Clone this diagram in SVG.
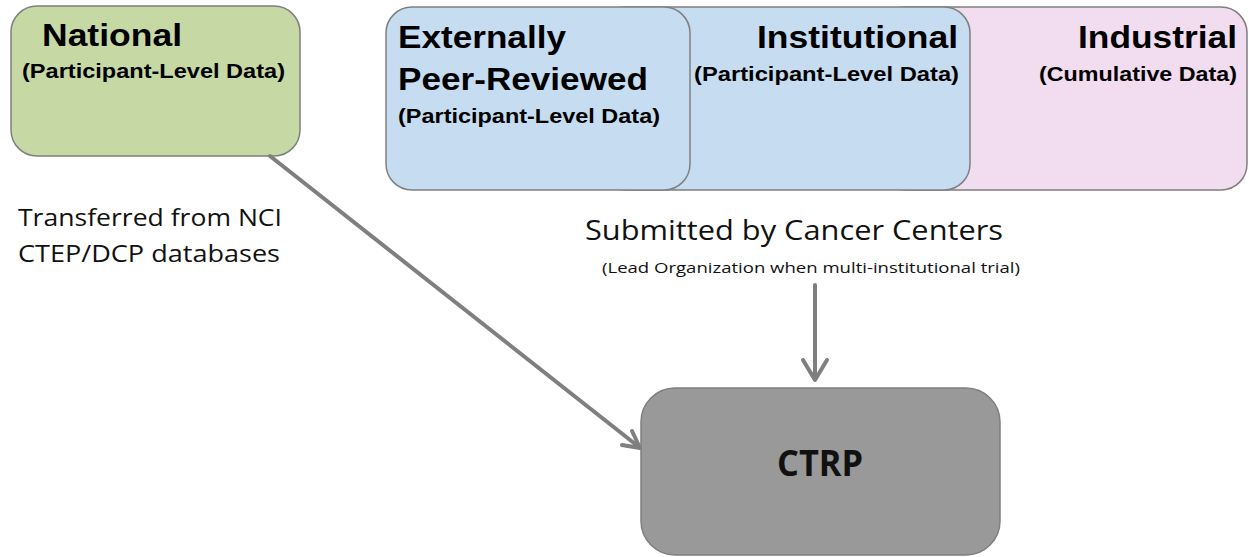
<svg xmlns="http://www.w3.org/2000/svg" width="1249" height="557" viewBox="0 0 1249 557">
<style>
.box{stroke:#7f7f7f;stroke-width:1.5}
.h{font-family:"Liberation Sans",Arial,sans-serif;font-weight:bold;font-size:31px;fill:#000}
.s{font-family:"Liberation Sans",Arial,sans-serif;font-weight:bold;font-size:21px;fill:#000}
.c{font-family:"Open Sans","Liberation Sans",sans-serif;fill:#111}
.conn{stroke:#7f7f7f;stroke-width:4;fill:none;stroke-linecap:round;stroke-linejoin:round}
</style>
<rect width="1249" height="557" fill="#fff"/>
<g id="industrial">
<rect class="box" x="880" y="7" width="367" height="183" rx="26" fill="#f2dcef"/>
<text class="h" x="1237" y="48" text-anchor="end" textLength="159" lengthAdjust="spacingAndGlyphs">Industrial</text>
<text class="s" x="1237" y="81" text-anchor="end" textLength="198" lengthAdjust="spacingAndGlyphs">(Cumulative Data)</text>
</g>
<g id="institutional">
<rect class="box" x="600" y="7" width="370" height="183" rx="26" fill="#c6dcf0"/>
<text class="h" x="958" y="48" text-anchor="end" textLength="201" lengthAdjust="spacingAndGlyphs">Institutional</text>
<text class="s" x="959" y="81" text-anchor="end" textLength="265" lengthAdjust="spacingAndGlyphs">(Participant-Level Data)</text>
</g>
<g id="externally">
<rect class="box" x="386" y="7" width="304" height="183" rx="26" fill="#c6dcf0"/>
<text class="h" x="398" y="48" textLength="168" lengthAdjust="spacingAndGlyphs">Externally</text>
<text class="h" x="398" y="90" textLength="250" lengthAdjust="spacingAndGlyphs">Peer-Reviewed</text>
<text class="s" x="398" y="123" textLength="262" lengthAdjust="spacingAndGlyphs">(Participant-Level Data)</text>
</g>
<g id="national">
<rect class="box" x="11" y="6" width="289" height="150" rx="26" fill="#c6d9a5"/>
<text class="h" x="42" y="46" textLength="140" lengthAdjust="spacingAndGlyphs">National</text>
<text class="s" x="22" y="78" textLength="263" lengthAdjust="spacingAndGlyphs">(Participant-Level Data)</text>
</g>
<g id="ctrp">
<rect class="box" x="641" y="388" width="359" height="167" rx="34" fill="#999999"/>
<text class="c" x="820" y="476" text-anchor="middle" font-size="36" font-weight="bold" textLength="86" lengthAdjust="spacingAndGlyphs">CTRP</text>
</g>
<g id="labels">
<text class="c" x="18" y="226" font-size="24" textLength="264" lengthAdjust="spacingAndGlyphs">Transferred from NCI</text>
<text class="c" x="18" y="262" font-size="24" textLength="262" lengthAdjust="spacingAndGlyphs">CTEP/DCP databases</text>
<text class="c" x="585" y="240" font-size="27" textLength="418" lengthAdjust="spacingAndGlyphs">Submitted by Cancer Centers</text>
<text class="c" x="602" y="273" font-size="15" textLength="418" lengthAdjust="spacingAndGlyphs">(Lead Organization when multi-institutional trial)</text>
</g>
<g id="connectors">
<path class="conn" d="M270 156 L639 447"/>
<path class="conn" d="M632 431 L640 448 L622 445"/>
<path class="conn" d="M815 285 L815 378" stroke-width="5"/>
<path class="conn" d="M803 360 L815 380 L827 360"/>
</g>
</svg>
